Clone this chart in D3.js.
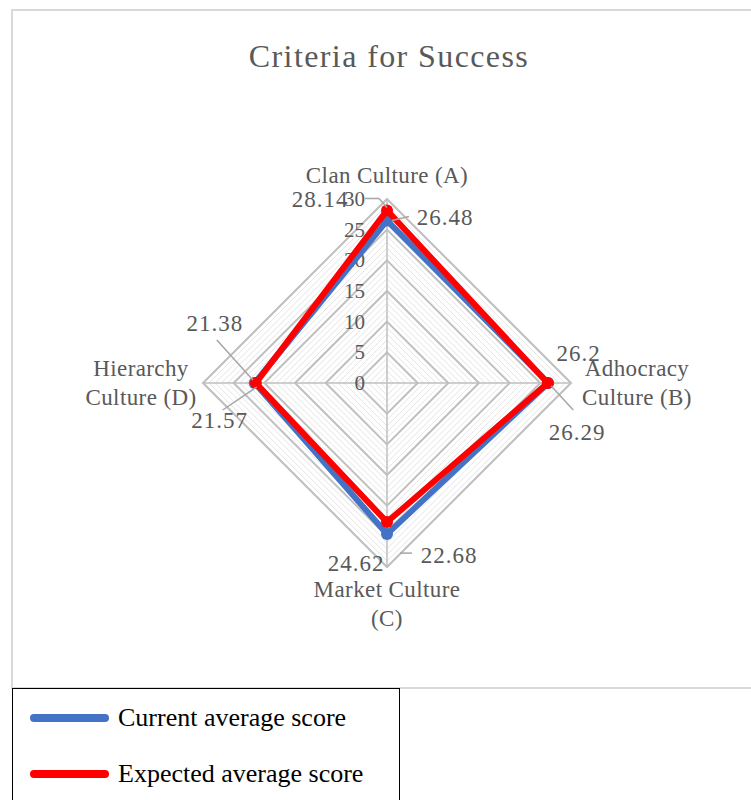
<!DOCTYPE html>
<html>
<head>
<meta charset="utf-8">
<script src="https://cdn.jsdelivr.net/npm/d3@7"></script>
<style>
  body { margin: 0; background: #fff; }
  svg { display: block; font-family: "Liberation Serif", "DejaVu Serif", serif; }
</style>
</head>
<body>
<svg id="chart" width="751" height="800"></svg>
<script>
// categories on the radar axes, clockwise from the top
const categories = ['Clan Culture (A)', 'Adhocracy Culture (B)', 'Market Culture (C)', 'Hierarchy Culture (D)'];
const categoryLines = [['Clan Culture (A)'], ['Adhocracy', 'Culture (B)'], ['Market Culture', '(C)'], ['Hierarchy', 'Culture (D)']];
const seriesNames = ['Current average score', 'Expected average score'];
const currentScores = [26.48, 26.29, 24.62, 21.57];
const expectedScores = [28.14, 26.2, 22.68, 21.38];
const tickValues = [0, 5, 10, 15, 20, 25, 30];

/**
 * layout of the chart, in pixels
 */
const layout = {
    cx: 387,
    cy: 383,
    radius: 184,
    colors: ['#4472C4', '#FF0000']
};

// where each data label sits relative to its point, plus its leader line
// [dx, dy, leader path relative to point or null]
const labelPlacement = [
    [[58, -4, [[22, -4], [5, 0]]], [29, 49, [[25, 27], [3, 3]]], [-31, 29, null], [-35, 37, [[-32, 27], [2, 4]]]],
    [[-67, -11, [[-22, -12], [-8, -12], [0, -3]]], [31, -30, null], [62, 33, [[13, 31], [25, 31]]], [-41, -60, [[-39, -43], [-3, -3]]]]
];
// where each category label is centred
const categoryPlacement = [[0, -207], [250, 0], [0, 221], [-246, 0]];

let svg = d3.select('#chart');

// chart frame
svg.append('rect')
    .attr('x', 12).attr('y', 10)
    .attr('width', 760).attr('height', 678)
    .attr('fill', '#fff')
    .attr('stroke', '#d9d9d9')
    .attr('stroke-width', 2);

// title
svg.append('text')
    .attr('x', 389).attr('y', 67)
    .attr('text-anchor', 'middle')
    .attr('font-size', 32)
    .attr('letter-spacing', 1.4)
    .attr('fill', '#595959')
    .text('Criteria for Success');

let r = d3.scaleLinear().domain([0, 30]).range([0, layout.radius]);
let angle = d3.scaleLinear().domain([0, categories.length]).range([0, 2 * Math.PI]);

function point(i, v){
    const a = angle(i);
    return [layout.cx + r(v) * Math.sin(a), layout.cy - r(v) * Math.cos(a)];
}

let grid = svg.append('g').attr('id', 'grid');

// minor rings, every 1
d3.range(1, 30).filter(v => v % 5 !== 0).forEach(function(v){
    grid.append('path')
        .attr('d', d3.line()(d3.range(4).map(i => point(i, v))) + 'Z')
        .attr('fill', 'none')
        .attr('stroke', '#e4e4e4')
        .attr('stroke-width', 1);
});
// major rings
tickValues.slice(1).forEach(function(v){
    grid.append('path')
        .attr('d', d3.line()(d3.range(4).map(i => point(i, v))) + 'Z')
        .attr('fill', 'none')
        .attr('stroke', '#bfbfbf')
        .attr('stroke-width', 2);
});
// spokes
categories.forEach(function(c, i){
    const p = point(i, 30);
    grid.append('line')
        .attr('x1', layout.cx).attr('y1', layout.cy)
        .attr('x2', p[0]).attr('y2', p[1])
        .attr('stroke', '#bfbfbf')
        .attr('stroke-width', 1.5);
});
// tick labels along the top axis
grid.selectAll('text.tick')
    .data(tickValues)
    .enter()
    .append('text')
    .attr('class', 'tick')
    .attr('x', layout.cx - 22)
    .attr('y', d => layout.cy - r(d) + 7)
    .attr('text-anchor', 'end')
    .attr('font-size', 21)
    .attr('fill', '#595959')
    .text(d => d);

// category labels
categoryLines.forEach(function(lines, i){
    const [dx, dy] = categoryPlacement[i];
    let t = svg.append('text')
        .attr('text-anchor', 'middle')
        .attr('font-size', 23)
        .attr('letter-spacing', 0.4)
        .attr('fill', '#595959');
    const y0 = layout.cy + dy - (lines.length - 1) * 14 + 7;
    lines.forEach(function(line, k){
        t.append('tspan')
            .attr('x', layout.cx + dx)
            .attr('y', y0 + k * 29)
            .text(line);
    });
});

// series
const allSeries = [currentScores, expectedScores];
let lineGen = d3.line().curve(d3.curveLinearClosed);
allSeries.forEach(function(values, s){
    let g = svg.append('g').attr('class', 'series');
    g.append('path')
        .attr('d', lineGen(values.map((v, i) => point(i, v))))
        .attr('fill', 'none')
        .attr('stroke', layout.colors[s])
        .attr('stroke-width', 6)
        .attr('stroke-linejoin', 'round');
    g.selectAll('circle')
        .data(values)
        .enter()
        .append('circle')
        .attr('cx', (v, i) => point(i, v)[0])
        .attr('cy', (v, i) => point(i, v)[1])
        .attr('r', 6)
        .attr('fill', layout.colors[s]);
});

// data labels with leader lines
allSeries.forEach(function(values, s){
    values.forEach(function(v, i){
        const p = point(i, v);
        const [dx, dy, leader] = labelPlacement[s][i];
        if(leader){
            svg.append('path')
                .attr('d', d3.line()(leader.map(q => [p[0] + q[0], p[1] + q[1]])))
                .attr('fill', 'none')
                .attr('stroke', '#a6a6a6')
                .attr('stroke-width', 1.5);
        }
        svg.append('text')
            .attr('x', p[0] + dx)
            .attr('y', p[1] + dy + 8)
            .attr('text-anchor', 'middle')
            .attr('font-size', 23)
            .attr('letter-spacing', 1)
            .attr('fill', '#595959')
            .text(v);
    });
});

// legend
let legend = svg.append('g').attr('id', 'legend');
legend.append('rect')
    .attr('x', 12.5).attr('y', 688.5)
    .attr('width', 387).attr('height', 130)
    .attr('fill', '#fff')
    .attr('stroke', '#000')
    .attr('stroke-width', 1);
seriesNames.forEach(function(name, s){
    const y = 718 + s * 56;
    legend.append('line')
        .attr('x1', 34).attr('x2', 105)
        .attr('y1', y).attr('y2', y)
        .attr('stroke', layout.colors[s])
        .attr('stroke-width', 8)
        .attr('stroke-linecap', 'round');
    legend.append('text')
        .attr('x', 118).attr('y', y + 8)
        .attr('font-size', 26)
        .attr('fill', '#000')
        .text(name);
});
</script>
</body>
</html>
